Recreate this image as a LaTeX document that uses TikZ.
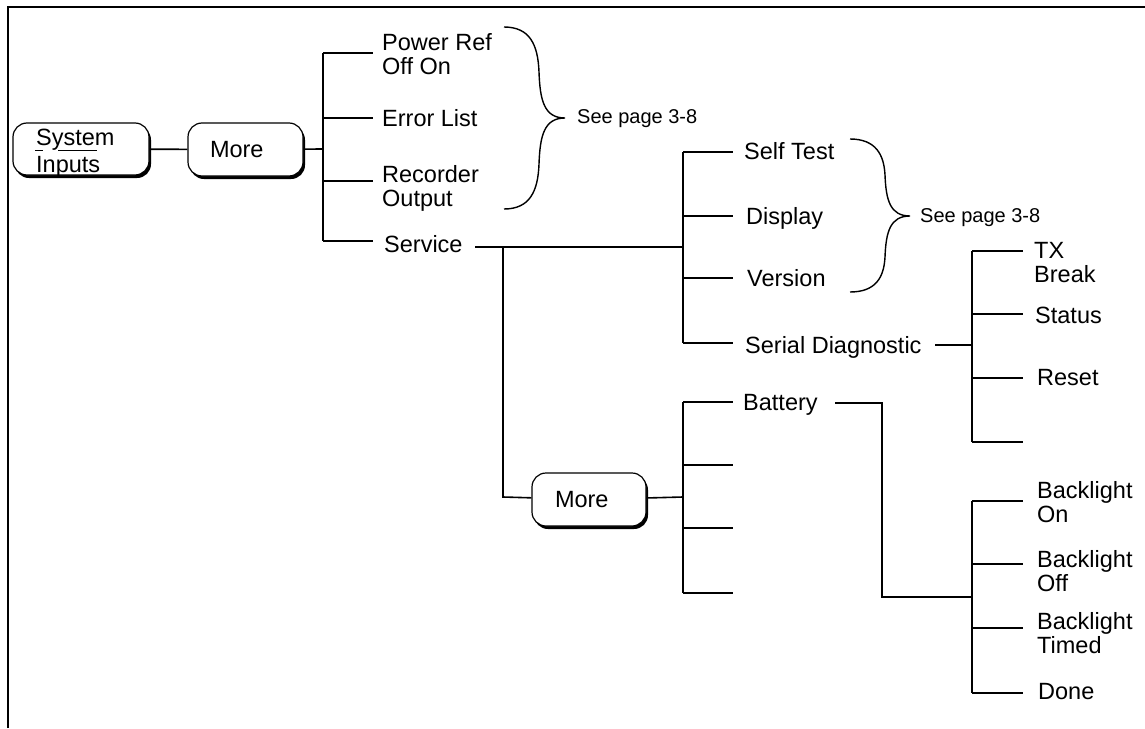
\documentclass[tikz,border=0pt]{standalone}
\usepackage{fontspec}
\setmainfont{Liberation Sans}
\usetikzlibrary{shadows}
\begin{document}
\begin{tikzpicture}[x=1pt,y=-1pt,
  conn/.style={line width=1.6pt},
  brace/.style={line width=1.4pt},
  lbl/.style={font=\fontsize{23.5}{24}\selectfont, inner sep=0pt, anchor=base west},
  lbltwo/.style={font=\fontsize{23.5}{24}\selectfont, inner sep=0pt, anchor=north west, align=left},
  seelbl/.style={font=\fontsize{20}{24}\selectfont, inner sep=0pt, anchor=base west},
  softkey/.style={draw, line width=1.2pt, fill=white, rounded corners=14pt,
    drop shadow={shadow xshift=2pt, shadow yshift=-3pt, opacity=1, fill=black},
    align=left, inner ysep=0pt, font=\fontsize{23.5}{26.7}\selectfont}]
\useasboundingbox (0,0) rectangle (1145,728);
% frame
\draw[line width=2pt] (8,728) -- (8,7) -- (1145,7);

% softkeys
\node[softkey, minimum height=52pt, minimum width=136pt] (sysbox) at (81,149) {};
\node[lbltwo, font=\fontsize{23.5}{26.7}\selectfont] (systxt) at (36,129) {System\\Inputs};
\draw[line width=1.2pt] (35,150.7) -- (43,150.7) (58,150.7) -- (97,150.7);
\node[softkey, minimum height=53pt, text width=71pt, inner xsep=22pt] (more1) at (245.5,149.5) {More};
\node[softkey, minimum height=53pt, text width=68pt, inner xsep=23pt] (more2) at (589,499.5) {More};

% labels
\node[lbltwo] (pwr) at (382,33) {Power Ref\\Off On};
\node[lbl] (err) at (382,126) {Error List};
\node[lbltwo] (rec) at (382,165) {Recorder\\Output};
\node[lbl] (svc) at (384,252) {Service};
\node[lbl] (self) at (744,159) {Self Test};
\node[lbl] (disp) at (746,224) {Display};
\node[lbl] (ver) at (747,286) {Version};
\node[lbl] (ser) at (745,353) {Serial Diagnostic};
\node[lbltwo] (txb) at (1034,242) {TX\\Break};
\node[lbl] (stat) at (1035,323) {Status};
\node[lbl] (reset) at (1037,385) {Reset};
\node[lbl] (batt) at (743,410) {Battery};
\node[lbltwo] (blon) at (1037,481) {Backlight\\On};
\node[lbltwo] (bloff) at (1037,550) {Backlight\\Off};
\node[lbltwo] (bltim) at (1037,612) {Backlight\\Timed};
\node[lbl] (done) at (1038,699) {Done};
\node[seelbl] (see1) at (577,123) {See page 3-8};
\node[seelbl] (see2) at (920,222) {See page 3-8};

% trunk 1
\coordinate (t1a) at (323,53);  \coordinate (e1a) at (373,53);
\coordinate (t1b) at (323,118); \coordinate (e1b) at (373,118);
\coordinate (t1m) at (323,149);
\coordinate (t1c) at (323,181); \coordinate (e1c) at (373,181);
\coordinate (t1d) at (323,241); \coordinate (e1d) at (373,241);
\draw[conn] (sysbox) -- (more1);
\draw[conn] (more1) -- (t1m);
\draw[conn] (t1a) -- (t1d);
\draw[conn] (t1a) -- (e1a) (t1b) -- (e1b) (t1c) -- (e1c) (t1d) -- (e1d);

% service
\coordinate (s0) at (475,247);
\coordinate (sv) at (503,247);
\coordinate (svb) at (503,497);
\coordinate (t2m) at (683,247);
\draw[conn] (s0) -- (t2m);
\draw[conn] (sv) -- (svb) -- (more2);

% trunk 2
\coordinate (t2a) at (683,152); \coordinate (e2a) at (733,152);
\coordinate (t2b) at (683,216); \coordinate (e2b) at (733,216);
\coordinate (t2c) at (683,278); \coordinate (e2c) at (733,278);
\coordinate (t2d) at (683,343); \coordinate (e2d) at (733,343);
\draw[conn] (t2a) -- (t2d);
\draw[conn] (t2a) -- (e2a) (t2b) -- (e2b) (t2c) -- (e2c) (t2d) -- (e2d);

% trunk 3
\coordinate (sr0) at (935,345); \coordinate (t3m) at (972,345);
\coordinate (t3a) at (972,251); \coordinate (e3a) at (1023,251);
\coordinate (t3b) at (972,314); \coordinate (e3b) at (1023,314);
\coordinate (t3c) at (972,378); \coordinate (e3c) at (1023,378);
\coordinate (t3d) at (972,442); \coordinate (e3d) at (1023,442);
\draw[conn] (sr0) -- (t3m);
\draw[conn] (t3a) -- (t3d);
\draw[conn] (t3a) -- (e3a) (t3b) -- (e3b) (t3c) -- (e3c) (t3d) -- (e3d);

% trunk 4
\coordinate (t4m) at (683,497);
\coordinate (t4a) at (683,402); \coordinate (e4a) at (733,402);
\coordinate (t4b) at (683,465); \coordinate (e4b) at (733,465);
\coordinate (t4c) at (683,528); \coordinate (e4c) at (733,528);
\coordinate (t4d) at (683,593); \coordinate (e4d) at (733,593);
\draw[conn] (more2) -- (t4m);
\draw[conn] (t4a) -- (t4d);
\draw[conn] (t4a) -- (e4a) (t4b) -- (e4b) (t4c) -- (e4c) (t4d) -- (e4d);

% battery
\coordinate (b0) at (835,403);
\coordinate (b1) at (882,403);
\coordinate (b2) at (882,597);
\coordinate (t5m) at (972,597);
\draw[conn] (b0) -- (b1) -- (b2) -- (t5m);

% trunk 5
\coordinate (t5a) at (972,501); \coordinate (e5a) at (1023,501);
\coordinate (t5b) at (972,564); \coordinate (e5b) at (1023,564);
\coordinate (t5c) at (972,628); \coordinate (e5c) at (1023,628);
\coordinate (t5d) at (972,693); \coordinate (e5d) at (1023,693);
\draw[conn] (t5a) -- (t5d);
\draw[conn] (t5a) -- (e5a) (t5b) -- (e5b) (t5c) -- (e5c) (t5d) -- (e5d);

% braces
\coordinate (b1t) at (504,27); \coordinate (b1tip) at (565,118); \coordinate (b1b) at (504,209);
\draw[brace] (b1t) .. controls (530,27) and (538,45) .. (539,72)
  .. controls (540,100) and (544,118) .. (b1tip)
  .. controls (544,118) and (540,136) .. (539,164)
  .. controls (538,191) and (530,209) .. (b1b);
\coordinate (b2t) at (850,139); \coordinate (b2tip) at (910,216); \coordinate (b2b) at (850,292);
\draw[brace] (b2t) .. controls (876,139) and (884,155) .. (885,175)
  .. controls (886,200) and (890,216) .. (b2tip)
  .. controls (890,216) and (886,232) .. (885,257)
  .. controls (884,277) and (876,292) .. (b2b);
\end{tikzpicture}
\end{document}
